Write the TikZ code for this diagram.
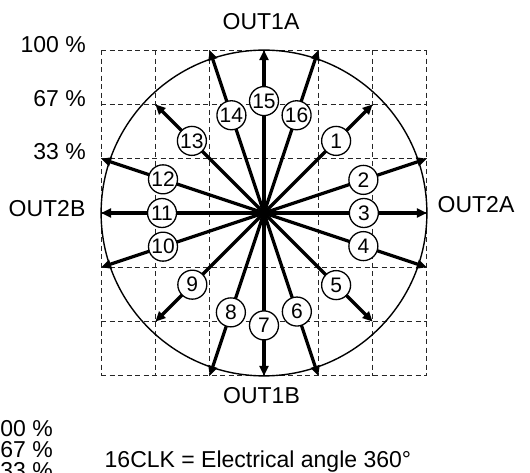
\documentclass[tikz,border=0pt]{standalone}
\usepackage{fontspec}
\setmainfont{Liberation Sans}
\usetikzlibrary{arrows.meta}
\begin{document}
\begin{tikzpicture}[x=1pt,y=-1pt,
  gridline/.style={line width=1.1pt,dash pattern=on 5pt off 3.5pt,black!85},
  rim/.style={line width=1.4pt},
  vec/.style={line width=3.2pt,-{Triangle[length=10pt,width=9pt]}},
  lbl/.style={circle,draw,line width=1.3pt,fill=white,minimum size=29pt,inner sep=0pt,
    font=\fontsize{21}{23}\selectfont},
  txt/.style={inner sep=0pt,font=\fontsize{23}{26}\selectfont}]
\useasboundingbox (0,0) rectangle (530,473);
\coordinate (O) at (264,213);
% grid
\foreach \i in {-3,...,3}{
  \draw[gridline] ({264+54.3*\i},{213-162.9}) -- ({264+54.3*\i},{213+162.9});
  \draw[gridline] ({264-162.9},{213+54.3*\i}) -- ({264+162.9},{213+54.3*\i});
}
% circle
\draw[rim] (O) circle[radius=162.9];
% vectors
\foreach \n/\a/\b in {1/2/2,2/3/1,3/3/0,4/3/-1,5/2/-2,6/1/-3,7/0/-3,8/-1/-3,
  9/-2/-2,10/-3/-1,11/-3/0,12/-3/1,13/-2/2,14/-1/3,15/0/3,16/1/3}{
  \coordinate (t\n) at ({264+54.3*\a},{213-54.3*\b});
  \draw[vec] (O) -- (t\n);
}
% labels
\foreach \n/\p in {1/0.664,2/0.61,3/0.613,4/0.61,5/0.664,6/0.605,7/0.69,8/0.61,
  9/0.66,10/0.62,11/0.626,12/0.62,13/0.664,14/0.6,15/0.687,16/0.6}{
  \path (O) -- (t\n) node[lbl,pos=\p] (l\n) {\n};
}
% axis texts
\node[txt,anchor=base] (o1a) at (261,29.3) {OUT1A};
\node[txt,anchor=base] (o1b) at (261.5,403) {OUT1B};
\node[txt,anchor=base] (o2a) at (476,212.7) {OUT2A};
\node[txt,anchor=base] (o2b) at (47,216.7) {OUT2B};
\node[txt,anchor=base east] (p100) at (86,53) {100 \%};
\node[txt,anchor=base east] (p67) at (86,107) {67 \%};
\node[txt,anchor=base east] (p33) at (86,160) {33 \%};
% legend (cropped, as in the reference)
\node[txt,anchor=base east] (q100) at (53,436) {100 \%};
\node[txt,anchor=base east] (q67) at (53,457) {67 \%};
\node[txt,anchor=base east] (q33) at (53,478) {33 \%};
\node[txt,anchor=base west] (clk) at (104.5,467) {16CLK = Electrical angle 360°};
\end{tikzpicture}
\end{document}
